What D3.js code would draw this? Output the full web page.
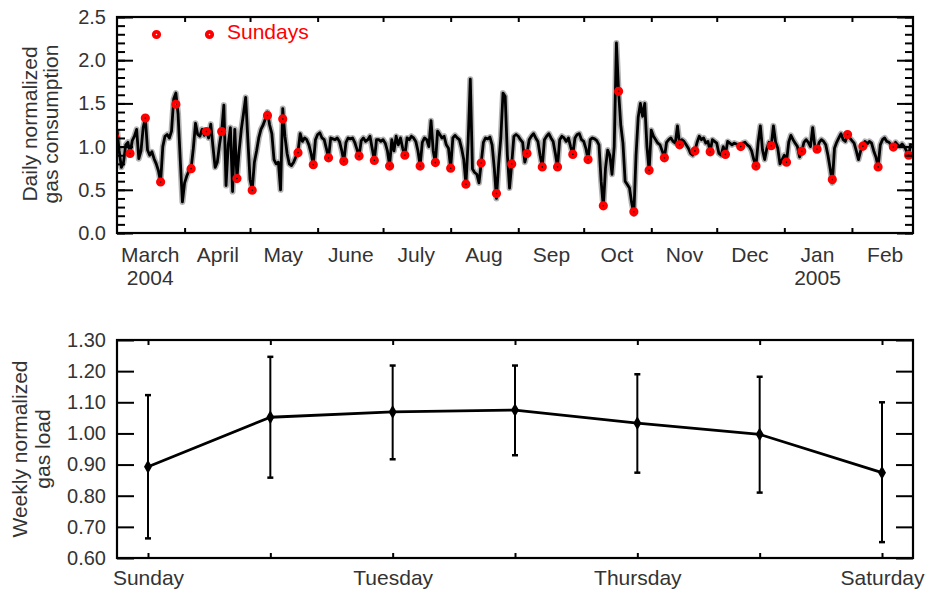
<!DOCTYPE html>
<html>
<head>
<meta charset="utf-8">
<script src="https://cdn.jsdelivr.net/npm/d3@7"></script>
<style>
  body { margin: 0; background: #fff; }
  text { font-family: "Liberation Sans", Arial, Helvetica, sans-serif; }
</style>
</head>
<body>
<svg id="chart" width="926" height="591"></svg>
<script>
// ---------------- DATA ----------------
// Daily normalized gas consumption, one array per month (Mar 2004 .. Feb 2005)
const mar04 = [1.20,0.95,0.76,0.82,1.02,1.05,0.92, 1.07,1.12,1.20,0.86,0.95,1.22,1.33, 0.96,0.90,0.94,0.86,0.80,0.72,0.59, 1.00,1.12,1.14,1.10,1.18,1.55,1.62, 1.38,0.85,0.36];
const apr04 = [0.58,0.66,0.72,0.75, 0.98,1.27,1.14,1.12,1.20,1.13,1.18, 1.10,1.26,1.00,0.76,0.82,1.02,1.18, 1.48,0.55,1.02,1.22,0.48,1.20,0.63, 0.95,1.20,1.38,1.57,1.08];
const may04 = [0.62,0.50, 0.82,0.95,1.10,1.20,1.25,1.32,1.40, 1.25,1.15,0.85,0.80,0.82,0.50,1.44, 1.12,0.92,0.80,0.78,0.82,0.88,0.94, 1.15,1.06,1.10,1.08,1.02,0.92,0.79, 1.08];
const jun04 = [1.14,1.16,1.10,1.08,0.98,0.87, 1.10,1.09,1.08,1.10,1.06,0.96,0.83, 1.05,1.10,1.09,1.10,1.05,0.97,0.89, 1.07,1.10,1.06,1.08,1.12,0.98,0.84, 1.08,1.08,1.06];
const jul04 = [1.08,1.04,0.95,0.78, 1.08,0.95,1.12,1.02,1.10,0.98,0.90, 1.10,1.08,1.12,1.10,1.06,0.95,0.78, 1.05,1.10,1.08,1.00,1.30,0.95,0.81, 1.18,1.14,1.10,1.12,1.02,0.98];
const aug04 = [0.75, 1.10,1.13,1.10,1.08,0.98,0.85,0.565, 1.05,1.78,0.74,0.70,0.68,0.58,0.81, 1.05,1.10,1.09,1.11,1.02,0.75,0.40, 0.80,1.10,1.62,1.58,0.90,0.52,0.80, 1.12,1.14];
const sep04 = [1.12,1.08,1.05,0.82,0.92, 1.08,1.12,1.15,1.10,1.06,0.90,0.765, 1.08,1.12,1.15,1.10,1.06,0.92,0.765, 1.08,1.12,1.10,1.06,1.10,1.00,0.91, 1.10,1.14,1.15,1.08];
const oct04 = [1.06,0.98,0.85, 1.08,1.10,1.09,1.07,1.02,0.60,0.30, 0.75,0.96,0.90,0.68,1.00,2.20,1.64, 1.25,1.04,0.60,0.56,0.52,0.35,0.22, 0.90,1.34,1.50,1.35,1.50,1.00,0.72];
const nov04 = [1.19,1.12,1.08,1.04,1.02,0.95,0.87, 1.05,1.08,1.10,1.06,1.04,1.24,1.02, 1.08,1.06,1.02,0.98,0.92,0.90,0.95, 1.05,1.12,1.08,1.10,1.04,1.06,0.94, 1.08,1.06];
const dec04 = [1.04,0.92,0.90,1.00,0.91, 1.06,1.04,1.02,1.04,1.03,1.02,1.00, 1.04,1.05,1.02,1.00,0.95,0.85,0.78, 1.05,1.24,0.96,0.85,0.98,1.05,1.01, 1.24,1.05,0.98,0.80,0.85];
const jan05 = [0.90,0.82, 1.05,1.13,1.08,1.04,1.00,0.88,0.945, 1.05,1.08,1.05,1.00,1.22,1.00,0.97, 1.05,1.08,1.06,1.02,0.90,0.75,0.58, 0.98,1.05,1.10,1.15,1.08,1.06,1.14, 1.10];
const feb05 = [1.07,1.04,0.95,0.85,0.95,1.005, 1.06,1.03,1.06,1.04,0.95,0.88,0.765, 1.02,1.08,1.10,1.06,1.05,1.02,0.995, 1.05,1.02,1.00,1.03,1.00,0.95,0.90, 1.04];

// Sunday markers, starting Sunday 29 Feb 2004, weekly
const sundayValues = [1.11, 0.92,1.33,0.59,1.49, 0.745,1.175,1.175,0.63, 0.495,1.36,1.32,0.93,0.79,
  0.87,0.83,0.89,0.84, 0.775,0.90,0.775,0.815, 0.75,0.565,0.81,0.457,0.80, 0.92,0.765,0.765,0.91,
  0.85,0.315,1.64,0.245,0.725, 0.87,1.02,0.95,0.94, 0.91,1.00,0.775,1.01, 0.82,0.945,0.97,0.62,1.14,
  1.005,0.765,0.995,0.90];

const monthLabels = ["March","April","May","June","July","Aug","Sep","Oct","Nov","Dec","Jan","Feb"];
const yearLabels = ["2004","2005"];
const topYTicks = [0.0,0.5,1.0,1.5,2.0,2.5];

// Weekly profile
const weekDays = ["Sunday","Monday","Tuesday","Wednesday","Thursday","Friday","Saturday"];
const weekDayLabels = ["Sunday","Tuesday","Thursday","Saturday"];
const weeklyMean = [0.893,1.052,1.069,1.075,1.033,0.997,0.874];
const weeklyHigh = [1.123,1.246,1.218,1.218,1.190,1.182,1.100];
const weeklyLow  = [0.663,0.858,0.917,0.930,0.874,0.810,0.651];
const bottomYTicks = [0.6,0.7,0.8,0.9,1.0,1.1,1.2,1.3];

// ---------------- DRAW ----------------
const svg = d3.select("#chart");
const FS = 20;     // numbers
const FL = 21;     // words
const TXT = "#333";

const daily = [].concat(mar04,apr04,may04,jun04,jul04,aug04,sep04,oct04,nov04,dec04,jan05,feb05);
const start = new Date(2004,2,1);
const dailyData = daily.map((v,i)=>({date: d3.timeDay.offset(start,i), v}));
const sundayData = sundayValues.map((v,i)=>({date: d3.timeDay.offset(new Date(2004,1,29), 7*i), v}));

// ---- top panel ----
const T = {l:117, r:913, t:17, b:233};
const x = d3.scaleTime().domain([new Date(2004,2,1), new Date(2005,2,1)]).range([T.l, T.r]);
const y = d3.scaleLinear().domain([0,2.5]).range([T.b, T.t]);

svg.append("defs").append("clipPath").attr("id","clipTop")
  .append("rect").attr("x",T.l).attr("y",T.t).attr("width",T.r-T.l).attr("height",T.b-T.t);

const gTop = svg.append("g");
const line = d3.line().x(d=>x(d.date)).y(d=>y(d.v));
const plot = gTop.append("g").attr("clip-path","url(#clipTop)");
plot.append("path").datum(dailyData).attr("d",line)
  .attr("fill","none").attr("stroke","#666").attr("stroke-opacity",0.5)
  .attr("stroke-width",6).attr("stroke-linejoin","round");
plot.append("path").datum(dailyData).attr("d",line)
  .attr("fill","none").attr("stroke","#000")
  .attr("stroke-width",2.8).attr("stroke-linejoin","round");

function sundayMark(sel){
  sel.attr("r",2.7).attr("fill","none").attr("stroke","#f00").attr("stroke-width",3.8);
}
plot.selectAll("circle.sun").data(sundayData).enter().append("circle")
  .attr("class","sun").attr("cx",d=>x(d.date)).attr("cy",d=>y(d.v)).call(sundayMark);

function styleAxis(g, fs){
  g.select(".domain").remove();
  g.selectAll(".tick line").attr("stroke","#000").attr("stroke-width",2);
  g.selectAll(".tick text").attr("font-size",fs||FS).attr("fill",TXT)
    .attr("font-family",'"Liberation Sans", Arial, sans-serif');
}
// Y axis top
gTop.append("g").attr("transform",`translate(${T.l},0)`)
  .call(d3.axisLeft(y).tickValues(topYTicks).tickSize(-16).tickPadding(11).tickFormat(d3.format(".1f")))
  .call(styleAxis);
gTop.append("g").attr("transform",`translate(${T.l},0)`)
  .call(d3.axisLeft(y).tickValues(d3.range(0,26).map(i=>i/10)).tickSize(-8).tickFormat(""))
  .call(styleAxis);
gTop.append("g").attr("transform",`translate(${T.r},0)`)
  .call(d3.axisRight(y).tickValues(topYTicks).tickSize(-16).tickFormat(""))
  .call(styleAxis);
gTop.append("g").attr("transform",`translate(${T.r},0)`)
  .call(d3.axisRight(y).tickValues(d3.range(0,26).map(i=>i/10)).tickSize(-8).tickFormat(""))
  .call(styleAxis);
// month boundary ticks
const monthStarts = d3.timeMonth.range(new Date(2004,3,1), new Date(2005,2,1));
gTop.append("g").attr("transform",`translate(0,${T.b})`)
  .call(d3.axisBottom(x).tickValues(monthStarts).tickSize(-5).tickFormat(""))
  .call(styleAxis);
gTop.append("g").attr("transform",`translate(0,${T.t})`)
  .call(d3.axisTop(x).tickValues(monthStarts).tickSize(-5).tickFormat(""))
  .call(styleAxis);
// month labels (mid-month)
const midMonths = d3.range(12).map(i=>new Date(2004,2+i,16));
gTop.append("g").attr("transform",`translate(0,${T.b})`)
  .call(d3.axisBottom(x).tickValues(midMonths).tickSize(0).tickPadding(14)
    .tickFormat((d,i)=>monthLabels[i]))
  .call(styleAxis, FL);
gTop.append("g").attr("transform",`translate(0,${T.b+23})`)
  .call(d3.axisBottom(x).tickValues([midMonths[0], midMonths[10]]).tickSize(0).tickPadding(14)
    .tickFormat((d,i)=>yearLabels[i]))
  .call(styleAxis, FL);
gTop.append("rect").attr("x",T.l).attr("y",T.t).attr("width",T.r-T.l).attr("height",T.b-T.t)
  .attr("fill","none").attr("stroke","#000").attr("stroke-width",2.2);

// legend
const legY = 34.5;
[156.5, 209.5].forEach(cx=>{
  gTop.append("circle").attr("cx",cx).attr("cy",legY).call(sundayMark);
});
gTop.append("text").attr("x",227).attr("y",39).attr("font-size",FL).attr("fill","#f00").text("Sundays");

// y title top
const yt = gTop.append("text").attr("transform","translate(37,124) rotate(-90)")
  .attr("text-anchor","middle").attr("font-size",FL).attr("fill",TXT);
yt.append("tspan").attr("x",0).attr("y",0).text("Daily normalized");
yt.append("tspan").attr("x",0).attr("y",21).text("gas consumption");

// ---- bottom panel ----
const B = {l:117, r:913, t:340, b:558};
const xb = d3.scalePoint().domain(weekDays).range([148, 882]);
const yb = d3.scaleLinear().domain([0.6,1.3]).range([B.b, B.t]);
const bot = svg.append("g");

bot.append("g").attr("transform",`translate(${B.l},0)`)
  .call(d3.axisLeft(yb).tickValues(bottomYTicks).tickSize(-17).tickPadding(11).tickFormat(d3.format(".2f")))
  .call(styleAxis);
bot.append("g").attr("transform",`translate(${B.r},0)`)
  .call(d3.axisRight(yb).tickValues(bottomYTicks).tickSize(-17).tickFormat(""))
  .call(styleAxis);
bot.append("g").attr("transform",`translate(0,${B.b})`)
  .call(d3.axisBottom(xb).tickSize(-5).tickFormat(""))
  .call(styleAxis);
bot.append("g").attr("transform",`translate(0,${B.t})`)
  .call(d3.axisTop(xb).tickSize(-5).tickFormat(""))
  .call(styleAxis);
bot.append("g").attr("transform",`translate(0,${B.b})`)
  .call(d3.axisBottom(xb).tickValues(weekDayLabels).tickSize(0).tickPadding(12))
  .call(styleAxis, FL);
bot.append("rect").attr("x",B.l).attr("y",B.t).attr("width",B.r-B.l).attr("height",B.b-B.t)
  .attr("fill","none").attr("stroke","#000").attr("stroke-width",2.2);

const wk = weekDays.map((d,i)=>({d, m:weeklyMean[i], hi:weeklyHigh[i], lo:weeklyLow[i]}));
// error bars
bot.selectAll("line.err").data(wk).enter().append("line")
  .attr("x1",d=>xb(d.d)).attr("x2",d=>xb(d.d)).attr("y1",d=>yb(d.lo)).attr("y2",d=>yb(d.hi))
  .attr("stroke","#000").attr("stroke-width",2);
["hi","lo"].forEach(k=>{
  bot.selectAll("line.cap"+k).data(wk).enter().append("line")
    .attr("x1",d=>xb(d.d)-3).attr("x2",d=>xb(d.d)+3).attr("y1",d=>yb(d[k])).attr("y2",d=>yb(d[k]))
    .attr("stroke","#000").attr("stroke-width",2.5);
});
bot.append("path").datum(wk)
  .attr("d", d3.line().x(d=>xb(d.d)).y(d=>yb(d.m)))
  .attr("fill","none").attr("stroke","#000").attr("stroke-width",2.8).attr("stroke-linejoin","round");
bot.selectAll("path.pt").data(wk).enter().append("path")
  .attr("transform",d=>`translate(${xb(d.d)},${yb(d.m)})`)
  .attr("d", d3.symbol().type(d3.symbolDiamond).size(55))
  .attr("fill","#000");

const ytb = bot.append("text").attr("transform","translate(27,449) rotate(-90)")
  .attr("text-anchor","middle").attr("font-size",FL).attr("fill",TXT);
ytb.append("tspan").attr("x",0).attr("y",0).text("Weekly normalized");
ytb.append("tspan").attr("x",0).attr("y",23).text("gas load");
</script>
</body>
</html>
